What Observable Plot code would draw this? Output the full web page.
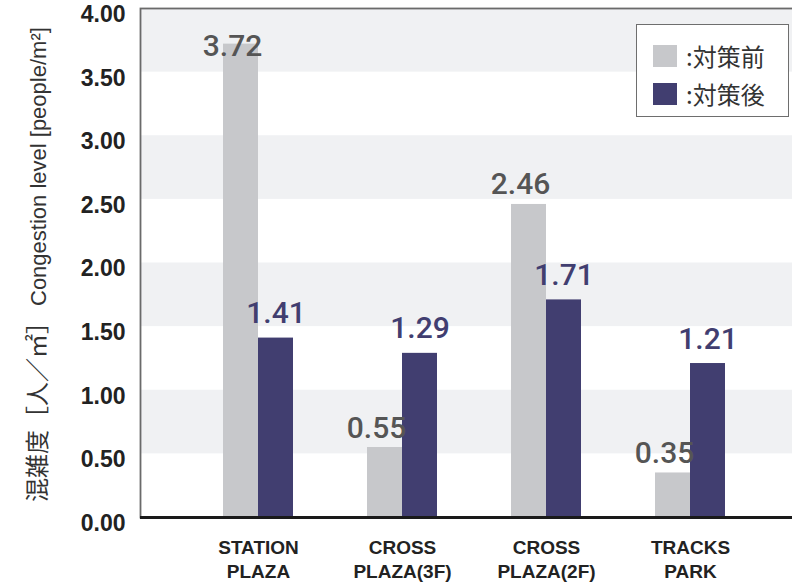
<!DOCTYPE html>
<html>
<head>
<meta charset="utf-8">
<script src="https://cdn.jsdelivr.net/npm/d3@7"></script>
<script src="https://cdn.jsdelivr.net/npm/@observablehq/plot@0.6"></script>
<style>
  html, body { margin: 0; padding: 0; background: #fff; }
  #wrap { position: relative; width: 792px; height: 583px; overflow: hidden; }
  .legend { position: absolute; left: 636px; top: 24px; width: 153px; height: 93px;
    border: 1.5px solid #6e6e6e; background: #fff; box-sizing: border-box;
    font-family: "Noto Sans CJK JP", sans-serif; font-size: 24px; color: #333; }
  .legend .item { position: absolute; left: 16px; display: flex; align-items: center; }
  .legend .sw { width: 24px; height: 22px; margin-right: 9px; }
</style>
</head>
<body>
<div id="wrap"></div>
<script>
// ---- data ----
const categories = ["STATION\nPLAZA", "CROSS\nPLAZA(3F)", "CROSS\nPLAZA(2F)", "TRACKS\nPARK"];
const seriesNames = [":対策前", ":対策後"];
const seriesColors = ["#c7c8cb", "#413e70"];
const beforeValues = [3.72, 0.55, 2.46, 0.35];
const afterValues = [1.41, 1.29, 1.71, 1.21];
const yTicks = [0, 0.5, 1, 1.5, 2, 2.5, 3, 3.5, 4];
const shadedLow = [0.5, 1.5, 2.5, 3.5];
const shadedHigh = [1, 2, 3, 4];
const yLabelJa = "混雑度［人／㎡］";
const yLabelEn = "Congestion level [people/m²]";

// tables built from the arrays
const beforeRows = categories.map((c, i) => ({cat: c, v: beforeValues[i]}));
const afterRows = categories.map((c, i) => ({cat: c, v: afterValues[i]}));
const bandRows = shadedLow.map((lo, i) => ({lo, hi: shadedHigh[i]}));

const chart = Plot.plot({
  width: 792,
  height: 583,
  marginLeft: 140,
  marginTop: 8,
  marginBottom: 66,
  marginRight: -3,
  style: { fontFamily: "Liberation Sans, Arial, sans-serif", background: "#fff" },
  x: { type: "band", domain: categories, range: [140, 808], paddingInner: 0.515, paddingOuter: 0.5716, align: 0.5 },
  y: { domain: [0, 4] },
  marks: [
    Plot.rectY(bandRows, { y1: "lo", y2: "hi", fill: "#f0f1f3" }),
    Plot.barY(beforeRows, { x: "cat", y: "v", fill: seriesColors[0], insetRight: 35 }),
    Plot.barY(afterRows, { x: "cat", y: "v", fill: seriesColors[1], insetLeft: 35 }),
    Plot.text(beforeRows, {
      x: "cat", y: d => Math.min(d.v, 3.55), text: d => d.v.toFixed(2),
      dx: -26, dy: -10, lineAnchor: "bottom", fill: "#555",
      fontSize: 30, fontFamily: "Roboto", fontWeight: 500
    }),
    Plot.text(afterRows, {
      x: "cat", y: "v", text: d => d.v.toFixed(2),
      dx: 17.5, dy: -15, lineAnchor: "bottom", fill: "#413e70",
      fontSize: 30, fontFamily: "Roboto", fontWeight: 500
    }),
    Plot.frame({ stroke: "#6a6a6a", strokeWidth: 1.8 }),
    Plot.ruleY([0], { stroke: "#1a1a1a", strokeWidth: 3 }),
    Plot.axisY({
      ticks: yTicks, tickSize: 0, tickPadding: 15, dy: 6,
      tickFormat: d => d.toFixed(2), label: null,
      fontSize: 23, fontWeight: "bold", fill: "#222"
    }),
    Plot.axisX({
      tickSize: 0, tickPadding: 20, label: null, lineHeight: 1.25,
      fontSize: 19, fontWeight: "bold", fill: "#222"
    })
  ]
});

document.getElementById("wrap").appendChild(chart);

// rotated y-axis title inside the svg
const lbl = d3.select(chart).append("text")
  .attr("transform", "translate(46,502) rotate(-90)")
  .attr("text-anchor", "start")
  .attr("fill", "#333");
lbl.append("tspan").attr("font-family", "Noto Sans CJK JP").attr("font-size", 24).text(yLabelJa);
lbl.append("tspan").attr("dx", 4).attr("font-family", "Liberation Sans").attr("font-size", 22).text(yLabelEn);

// legend
const legend = d3.select("#wrap").append("div").attr("class", "legend");
seriesNames.forEach((name, i) => {
  const item = legend.append("div").attr("class", "item").style("top", (i === 0 ? 13 : 51) + "px");
  item.append("div").attr("class", "sw").style("background", seriesColors[i]);
  item.append("span").text(name);
});
</script>
</body>
</html>
